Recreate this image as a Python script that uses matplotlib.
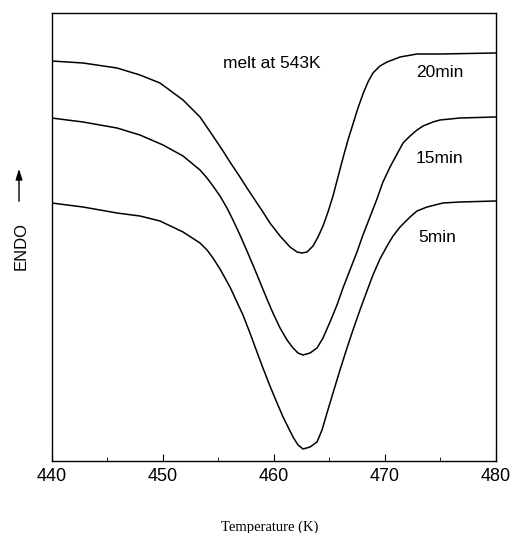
import matplotlib.pyplot as plt
from matplotlib.patches import FancyArrowPatch
from matplotlib.ticker import MultipleLocator

# DSC traces: temperature (K) and endotherm signal (a.u.)
t_20 = [440.0, 442.84, 445.90, 447.97, 449.77, 451.85, 453.38, 454.55, 455.45, 456.08,
        456.98, 457.61, 458.15, 459.05, 459.68, 460.59, 461.49, 462.12, 462.57, 463.02,
        463.56, 464.01, 464.46, 464.91, 465.36, 465.81, 466.26, 466.71, 467.16, 467.61,
        468.06, 468.51, 468.96, 469.59, 470.23, 471.40, 472.93, 475.00, 480.0]
h_20 = [400, 398, 393, 386, 378, 361, 344, 325, 310, 299,
        284, 273, 264, 249, 238, 225, 214, 209, 208, 209,
        215, 224, 235, 249, 265, 284, 303, 321, 337, 353,
        367, 379, 388, 395, 399, 404, 407, 407, 408]

t_15 = [440.0, 442.84, 445.90, 447.97, 450.05, 451.85, 453.38, 454.01, 454.55, 455.18,
        455.81, 456.35, 456.98, 457.61, 458.15, 458.78, 459.41, 459.95, 460.59, 461.22,
        461.76, 462.21, 462.66, 463.29, 463.92, 464.46, 465.09, 465.72, 466.26, 466.89,
        467.52, 468.06, 468.69, 469.32, 469.86, 470.50, 471.13, 471.67, 472.30, 472.93,
        473.47, 474.37, 475.00, 476.80, 480.0]
h_15 = [343, 339, 333, 326, 316, 305, 291, 283, 275, 265,
        253, 241, 226, 210, 196, 179, 162, 148, 133, 121,
        113, 108, 106, 108, 113, 123, 139, 156, 173, 191,
        209, 226, 244, 262, 279, 294, 307, 318, 325, 331,
        335, 339, 341, 343, 344]

t_5 = [440.0, 442.84, 445.90, 447.97, 449.77, 451.85, 453.38, 454.01, 454.55, 455.18,
       456.08, 457.25, 457.88, 458.51, 459.05, 459.68, 460.32, 460.86, 461.76, 462.21,
       462.66, 463.29, 463.92, 464.37, 464.82, 465.36, 465.99, 466.62, 467.16, 467.79,
       468.42, 468.96, 469.59, 470.23, 470.77, 471.40, 472.30, 472.93, 473.83, 475.27,
       476.80, 480.0]
h_5 = [258, 254, 248, 245, 240, 229, 218, 211, 203, 192,
       174, 146, 128, 109, 93, 75, 58, 44, 24, 16,
       12, 14, 19, 31, 48, 68, 91, 113, 131, 151,
       170, 186, 202, 215, 225, 234, 244, 250, 254, 258,
       259, 260]

fig = plt.figure(figsize=(5.11, 5.33), dpi=100)
ax = fig.add_axes([51.5 / 511, 72 / 533, 444 / 511, 448 / 533])

for t, h in [(t_20, h_20), (t_15, h_15), (t_5, h_5)]:
    ax.plot(t, h, color='black', lw=1.1, solid_joinstyle='round')

ax.set_xlim(440, 480)
ax.set_ylim(0, 448)
ax.xaxis.set_major_locator(MultipleLocator(10))
ax.xaxis.set_minor_locator(MultipleLocator(5))
ax.tick_params(axis='x', which='both', direction='in', top=False)
ax.tick_params(axis='x', which='major', length=5, labelsize=13, pad=5)
ax.tick_params(axis='x', which='minor', length=3)
ax.set_yticks([])
for lab in ax.get_xticklabels():
    lab.set_family('Liberation Sans')
for sp in ax.spines.values():
    sp.set_linewidth(1.0)

lab_font = dict(fontsize=12.5, family='Liberation Sans', va='baseline')
ax.text(455.45, 393, 'melt at 543K', **lab_font)
ax.text(472.84, 384, '20min', **lab_font)
ax.text(472.84, 298, '15min', **lab_font)
ax.text(473.0, 219, '5min', **lab_font)

fig.text(270 / 511, 1 - 527 / 533, 'Temperature (K)', ha='center', va='center',
         fontsize=10.5, family='Liberation Serif')
fig.text(21 / 511, 1 - 246 / 533, 'ENDO', rotation=90, ha='center', va='center',
         fontsize=12, family='Liberation Sans')
fig.patches.append(FancyArrowPatch(
    (19 / 511, 1 - 204 / 533), (19 / 511, 1 - 166 / 533),
    transform=fig.transFigure, arrowstyle='-|>,head_length=0.8,head_width=0.25',
    mutation_scale=8, color='black', lw=1.0))

fig.savefig('out.png', dpi=100)
